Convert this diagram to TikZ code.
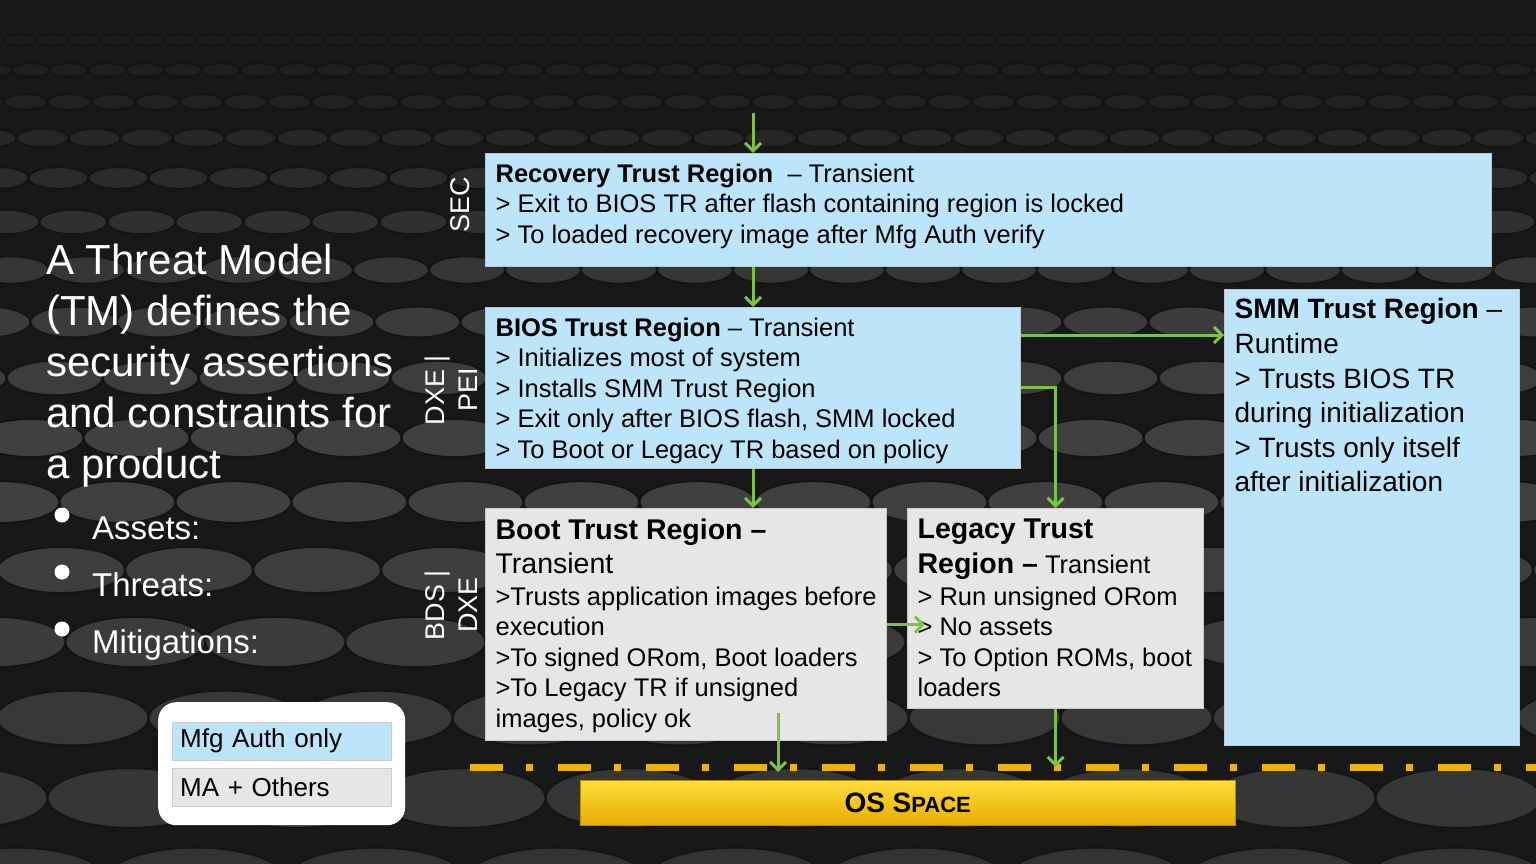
\documentclass[tikz,border=0pt]{standalone}
\usepackage{fontspec}
\setmainfont{Liberation Sans}
\usetikzlibrary{positioning,calc,arrows.meta}

\definecolor{regionblue}{RGB}{189,229,250}
\definecolor{regiongray}{RGB}{230,230,230}
\definecolor{flowgreen}{RGB}{125,194,66}
\definecolor{osgoldlight}{RGB}{255,222,60}
\definecolor{osgolddark}{RGB}{230,172,0}
\definecolor{dashgold}{RGB}{232,182,0}
\definecolor{bgbase}{RGB}{24,24,24}

\newcommand{\regiontext}[3]{\parbox[c][#2][t]{#1}{\raggedright #3}}

\tikzset{
    region/.style={
        draw = #1!60!black!45,
        line width = 1.2pt,
        fill = #1,
        anchor = north west,
        inner xsep = 10pt,
        inner ysep = 10pt,
        font = \fontsize{25.5}{30.5}\selectfont
    },
    flow/.style={
        draw = flowgreen,
        line width = 3pt,
        -{Straight Barb[length=8pt,width=16pt]}
    },
    phase/.style={text=white, rotate=90, align=center, inner sep=0pt,
        font=\fontsize{27}{33}\selectfont},
    headline/.style={text=white, align=left, inner sep=0pt,
        font=\fontsize{42}{51}\selectfont},
    bulletitem/.style={text=white, anchor=base west, inner sep=0pt,
        font=\fontsize{33}{40}\selectfont},
    legendkey/.style={
        draw = gray!40,
        anchor = north west,
        minimum width = 219pt,
        minimum height = 38pt,
        text width = 203pt,
        align = left,
        inner xsep = 8pt,
        inner ysep = 0pt,
        font = \fontsize{26}{30}\selectfont
    },
    osdash/.style={draw=dashgold, line width=7pt,
        dash pattern=on 33pt off 23pt on 7pt off 25pt}
}

\begin{document}
\begin{tikzpicture}[x=1pt, y=-1pt]
    \useasboundingbox (0,0) rectangle (1536,864);

    % background discs
    \begin{scope}
        \clip (0,0) rectangle (1536,864);
        \fill[bgbase] (0,0) rectangle (1536,864);
        \foreach \yy/\sz/\tone in {40/16/89, 70/19/88, 102/22/87, 138/26/85, 178/30/83,
                222/34/81, 270/38/79, 322/43/77, 378/48/76, 438/53/75, 502/58/75,
                570/64/76, 642/70/77, 718/76/78, 798/83/79, 880/90/80} {
            \pgfmathsetmacro{\gap}{2.0*\sz}
            \pgfmathsetmacro{\hh}{0.36*\sz}
            \pgfmathsetmacro{\off}{mod(\yy*3.7,\gap)}
            \foreach \k in {-1,...,50} {
                \filldraw[fill=black!\tone, draw=black!92, line width=2pt]
                    ({\off+\k*\gap},\yy) ellipse [x radius=\sz pt, y radius=\hh pt];
            }
        }
    \end{scope}

    % left column
    \node[headline, anchor=north west] (tm) at (46,244)
        {A Threat Model\\(TM) defines the\\security assertions\\and constraints for\\a product};
    \foreach \lbl/\yy in {Assets:/539, Threats:/596, Mitigations:/653} {
        \fill[white] (62,\yy-24) circle[radius=7.5pt];
        \node[bulletitem] (item\yy) at (92,\yy) {\lbl};
    }

    % phase labels
    \node[phase] (sec) at (460,205) {SEC};
    \node[phase] (pei) at (451,390) {DXE |\\PEI};
    \node[phase] (dxe) at (451,605) {BDS |\\DXE};

    % OS space boundary
    \coordinate (osline) at (470,767);
    \coordinate (oslineend) at (1536,767);
    \draw[osdash] (osline) -- (oslineend);
    \node[draw=osgolddark!80!black, top color=osgoldlight, bottom color=osgolddark,
          anchor=north west, minimum width=655pt, minimum height=45pt, inner sep=0pt,
          font=\fontsize{28}{30}\selectfont\bfseries] (os) at (580,780)
        {OS S{\fontsize{22}{24}\selectfont PACE}};

    % trust regions
    \node[region=regionblue] (rec) at (485,153) {\regiontext{986pt}{93pt}{%
        \textbf{Recovery Trust Region}\ \ – Transient\\
        > Exit to BIOS TR after flash containing region is locked\\
        > To loaded recovery image after Mfg Auth verify}};
    \node[region=regionblue] (bios) at (485,307) {\regiontext{515pt}{141pt}{%
        \textbf{BIOS Trust Region} – Transient\\
        > Initializes most of system\\
        > Installs SMM Trust Region\\
        > Exit only after BIOS flash, SMM locked\\
        > To Boot or Legacy TR based on policy}};
    \node[region=regiongray] (boot) at (485,508) {\regiontext{381pt}{212pt}{%
        {\fontsize{28.5}{35}\selectfont\bfseries Boot Trust Region –}\\[4pt]
        {\fontsize{28.5}{35}\selectfont Transient}\\[1pt]
        >Trusts application images before\\
        execution\\
        >To signed ORom, Boot loaders\\
        >To Legacy TR if unsigned\\
        images, policy ok}};
    \node[region=regiongray] (legacy) at (907,508) {\regiontext{276pt}{180pt}{%
        {\fontsize{28.5}{35}\selectfont\bfseries Legacy Trust}\\[5pt]
        {\fontsize{28.5}{35}\selectfont\bfseries Region –} Transient\\[1pt]
        > Run unsigned ORom\\
        > No assets\\
        > To Option ROMs, boot\\
        loaders}};
    \node[region=regionblue, inner ysep=9pt, font=\fontsize{28}{34.6}\selectfont]
        (smm) at (1224,289) {\regiontext{275pt}{438pt}{%
        \textbf{SMM Trust Region} –\\
        Runtime\\
        > Trusts BIOS TR\\
        during initialization\\
        > Trusts only itself\\
        after initialization}};

    % legend
    \node[fill=white, rounded corners=18pt, anchor=north west, minimum width=247pt,
          minimum height=123pt, inner sep=0pt] (legend) at (158,702) {};
    \node[legendkey, fill=regionblue] (mfg) at (172,722) {Mfg Auth only};
    \node[legendkey, fill=regiongray] (others) at (172,768) {MA + Others};

    % flow between regions
    \coordinate (feed) at (753,113);
    \coordinate (biosout) at ([yshift=-28pt]bios.north east);
    \coordinate (legout) at ([yshift=-80pt]bios.north east);
    \coordinate (bootdrop) at ($(boot.south)+(92,-28)$);
    \draw[flow] (feed) -- (feed |- rec.north);
    \draw[flow] (feed |- rec.south) -- (feed |- bios.north);
    \draw[flow] (feed |- bios.south) -- (feed |- boot.north);
    \draw[flow] (biosout) -- (biosout -| smm.west);
    \draw[flow] (legout) -| (legacy.north);
    \draw[flow] (boot.east) -- ($(boot.east -| legacy.west)+(18,0)$);
    \draw[flow] (bootdrop) -- ($(bootdrop |- osline)+(0,5)$);
    \draw[flow] (legacy.south) -- (legacy.south |- osline);
\end{tikzpicture}
\end{document}
